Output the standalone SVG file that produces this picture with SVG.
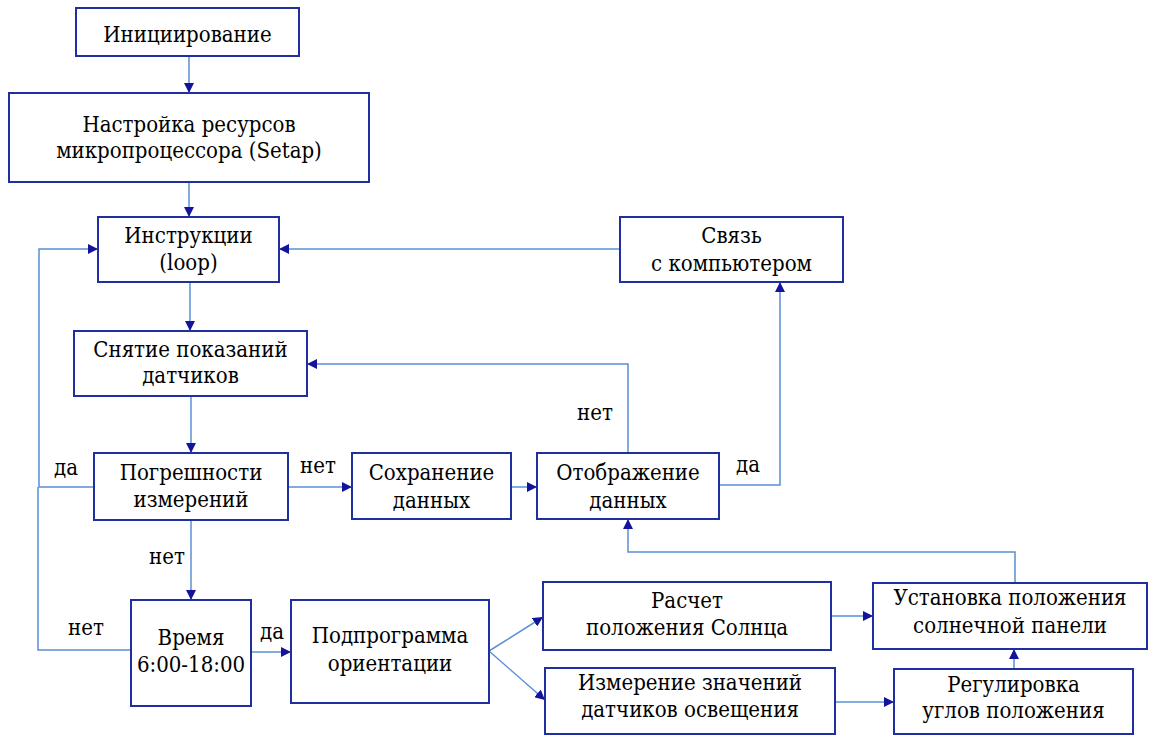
<svg xmlns="http://www.w3.org/2000/svg" width="1149" height="736" viewBox="0 0 1149 736">
<style>
.box{fill:#fff;stroke:#1f2f9f;stroke-width:2}
text{font-family:'DejaVu Serif Condensed','DejaVu Serif',serif;font-stretch:condensed;font-size:22px;fill:#000;text-anchor:middle}
.c{fill:none;stroke:#5b8fd4;stroke-width:1.5}
</style>
<defs>
<marker id="ah" viewBox="0 0 10 10" refX="10" refY="5" markerWidth="10" markerHeight="10" markerUnits="userSpaceOnUse" orient="auto">
<path d="M0,0 L10,5 L0,10 Z" fill="#14149a"/>
</marker>
</defs>
<rect width="1149" height="736" fill="#fff"/>
<g id="connectors">
<path class="c" d="M189,56 V93" marker-end="url(#ah)"/>
<path class="c" d="M189,182 V217" marker-end="url(#ah)"/>
<path class="c" d="M190,282 V331" marker-end="url(#ah)"/>
<path class="c" d="M191,396 V453" marker-end="url(#ah)"/>
<path class="c" d="M94,487 H39 V249 H98" marker-end="url(#ah)"/>
<path class="c" d="M131,650 H38 V487"/>
<path class="c" d="M288,487 H352" marker-end="url(#ah)"/>
<path class="c" d="M191,520 V600" marker-end="url(#ah)"/>
<path class="c" d="M251,652 H291" marker-end="url(#ah)"/>
<path class="c" d="M489,651 L543,617" marker-end="url(#ah)"/>
<path class="c" d="M489,651 L545,700" marker-end="url(#ah)"/>
<path class="c" d="M831,616 H873" marker-end="url(#ah)"/>
<path class="c" d="M835,702 H894" marker-end="url(#ah)"/>
<path class="c" d="M1014,669 V649" marker-end="url(#ah)"/>
<path class="c" d="M1015,583 V552 H628 V519" marker-end="url(#ah)"/>
<path class="c" d="M511,487 H537" marker-end="url(#ah)"/>
<path class="c" d="M628,453 V364 H307" marker-end="url(#ah)"/>
<path class="c" d="M719,485 H780 V282" marker-end="url(#ah)"/>
<path class="c" d="M620,249 H279" marker-end="url(#ah)"/>
</g>
<g id="labels">
<text x="66" y="475">да</text>
<text x="318" y="473">нет</text>
<text x="167" y="564">нет</text>
<text x="86" y="635">нет</text>
<text x="272" y="639">да</text>
<text x="595" y="420">нет</text>
<text x="748" y="472">да</text>
</g>
<g id="n1"><rect class="box" x="76" y="8" width="223" height="48"/><text x="187.5" y="42">Инициирование</text></g>
<g id="n2"><rect class="box" x="9" y="93" width="360" height="89"/><text x="189" y="132">Настройка ресурсов</text><text x="189" y="158">микропроцессора (Setap)</text></g>
<g id="n3"><rect class="box" x="98" y="217" width="181" height="65"/><text x="188.5" y="243">Инструкции</text><text x="188.5" y="270">(loop)</text></g>
<g id="n4"><rect class="box" x="620" y="217" width="223" height="65"/><text x="731.5" y="243">Связь</text><text x="731.5" y="271">с компьютером</text></g>
<g id="n5"><rect class="box" x="74" y="331" width="233" height="65"/><text x="190.5" y="357">Снятие показаний</text><text x="190.5" y="383">датчиков</text></g>
<g id="n6"><rect class="box" x="94" y="453" width="194" height="67"/><text x="191" y="480">Погрешности</text><text x="191" y="507">измерений</text></g>
<g id="n7"><rect class="box" x="352" y="453" width="159" height="66"/><text x="431.5" y="480">Сохранение</text><text x="431.5" y="508">данных</text></g>
<g id="n8"><rect class="box" x="537" y="453" width="182" height="66"/><text x="628" y="480">Отображение</text><text x="628" y="508">данных</text></g>
<g id="n9"><rect class="box" x="131" y="600" width="120" height="106"/><text x="191" y="645">Время</text><text x="191" y="672">6:00-18:00</text></g>
<g id="n10"><rect class="box" x="291" y="600" width="198" height="103"/><text x="390" y="643">Подпрограмма</text><text x="390" y="671">ориентации</text></g>
<g id="n11"><rect class="box" x="543" y="582" width="288" height="68"/><text x="687" y="608">Расчет</text><text x="687" y="635">положения Солнца</text></g>
<g id="n12"><rect class="box" x="545" y="668" width="290" height="66"/><text x="690" y="690">Измерение значений</text><text x="690" y="717">датчиков освещения</text></g>
<g id="n13"><rect class="box" x="873" y="583" width="274" height="66"/><text x="1010" y="605">Установка положения</text><text x="1010" y="633">солнечной панели</text></g>
<g id="n14"><rect class="box" x="894" y="669" width="239" height="65"/><text x="1013.5" y="692">Регулировка</text><text x="1013.5" y="718">углов положения</text></g>
</svg>
